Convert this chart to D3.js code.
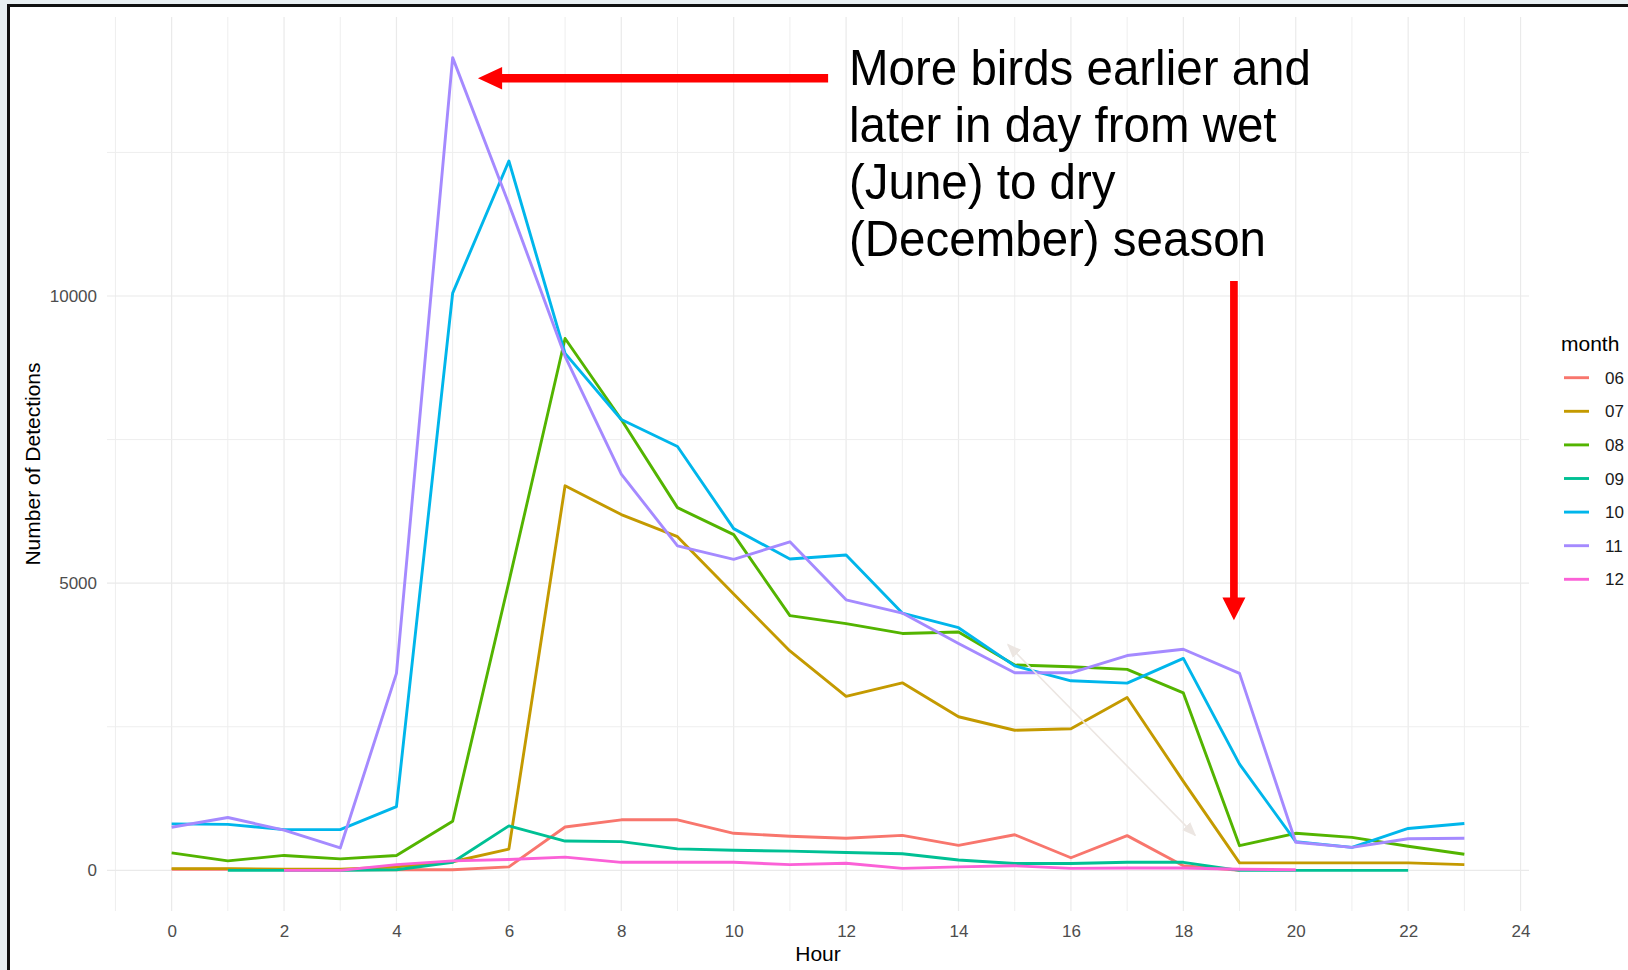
<!DOCTYPE html>
<html>
<head>
<meta charset="utf-8">
<script src="https://cdn.jsdelivr.net/npm/d3@7"></script>
<style>
  html, body { margin: 0; padding: 0; background: #e8eff2; }
  svg { display: block; }
  text { font-family: "Liberation Sans", Arial, sans-serif; }
</style>
</head>
<body>
<svg id="chart"></svg>
<script>
// chart values
const hours = [0, 1, 2, 3, 4, 5, 6, 7, 8, 9, 10, 11, 12, 13, 14, 15, 16, 17, 18, 19, 20, 21, 22, 23];
const months = ["06", "07", "08", "09", "10", "11", "12"];
const colors = ["#F8766D", "#C49A00", "#53B400", "#00C094", "#00B6EB", "#A58AFF", "#FB61D7"];

const m06 = [20, 20, 15, 10, 10, 10, 60, 755, 880, 880, 645, 595, 560, 610, 435, 620, 220, 605, 80, 0, null, null, null, null];
const m07 = [30, 30, 20, 20, 60, 150, 370, 6695, 6195, 5810, 4810, 3820, 3030, 3265, 2675, 2440, 2465, 3010, 1550, 130, 130, 130, 130, 100];
const m08 = [305, 165, 260, 200, 260, 855, 5020, 9260, 7850, 6315, 5845, 4435, 4295, 4125, 4150, 3575, 3545, 3500, 3090, 430, 645, 575, 420, 280];
const m09 = [null, 0, 0, 0, 10, 140, 775, 510, 500, 375, 350, 335, 310, 290, 180, 120, 120, 140, 140, 0, 0, 0, 0, null];
const m10 = [810, 800, 710, 710, 1110, 10050, 12350, 9000, 7850, 7380, 5950, 5420, 5490, 4480, 4225, 3560, 3300, 3260, 3690, 1850, 500, 400, 730, 815];
const m11 = [750, 920, 700, 390, 3430, 14150, 11600, 8950, 6900, 5650, 5415, 5720, 4710, 4480, 3950, 3440, 3440, 3740, 3850, 3430, 490, 400, 550, 560];
const m12 = [null, null, 0, 0, 100, 165, 190, 230, 140, 140, 140, 100, 125, 35, 60, 80, 35, 40, 40, 20, 10, null, null, null];
const series = [m06, m07, m08, m09, m10, m11, m12];

const xTicks = [0, 2, 4, 6, 8, 10, 12, 14, 16, 18, 20, 22, 24];
const xMinor = [-1, 1, 3, 5, 7, 9, 11, 13, 15, 17, 19, 21, 23];
const yTicks = [0, 5000, 10000];
const yMinor = [2500, 7500, 12500];

const noteLines = ["More birds earlier and", "later in day from wet", "(June) to dry", "(December) season"];

const W = 1628, H = 970;
const panel = { left: 107, right: 1529, top: 17, bottom: 911 };

const svg = d3.select("#chart").attr("width", W).attr("height", H);

// screenshot frame
svg.append("rect").attr("x", 0).attr("y", 0).attr("width", W).attr("height", H).attr("fill", "#e8eff2");
svg.append("rect").attr("x", 8.5).attr("y", 5.5).attr("width", W + 10).attr("height", H + 10)
  .attr("fill", "#ffffff").attr("stroke", "#111").attr("stroke-width", 3);

const yMax = d3.max(series.flat());
const pad = yMax * 0.05;

const x = d3.scaleLinear().domain([-1.15, 24.15]).range([panel.left, panel.right]);
const y = d3.scaleLinear().domain([-pad, yMax + pad]).range([panel.bottom, panel.top]);

// grid
const grid = svg.append("g");
grid.selectAll(".vmin").data(xMinor).enter().append("line")
  .attr("x1", d => x(d)).attr("x2", d => x(d))
  .attr("y1", panel.top).attr("y2", panel.bottom)
  .attr("stroke", "#eeeeee").attr("stroke-width", 1);
grid.selectAll(".vmaj").data(xTicks).enter().append("line")
  .attr("x1", d => x(d)).attr("x2", d => x(d))
  .attr("y1", panel.top).attr("y2", panel.bottom)
  .attr("stroke", "#eaeaea").attr("stroke-width", 1.2);
grid.selectAll(".hmin").data(yMinor).enter().append("line")
  .attr("x1", panel.left).attr("x2", panel.right)
  .attr("y1", d => y(d)).attr("y2", d => y(d))
  .attr("stroke", "#eeeeee").attr("stroke-width", 1);
grid.selectAll(".hmaj").data(yTicks).enter().append("line")
  .attr("x1", panel.left).attr("x2", panel.right)
  .attr("y1", d => y(d)).attr("y2", d => y(d))
  .attr("stroke", "#eaeaea").attr("stroke-width", 1.2);

// axes (labels only, theme_minimal look)
const xAxis = svg.append("g")
  .attr("transform", "translate(0," + (panel.bottom + 14) + ")")
  .call(d3.axisBottom(x).tickValues(xTicks).tickSize(0).tickPadding(0));
xAxis.select(".domain").remove();
xAxis.selectAll("text").attr("font-size", 17).attr("fill", "#4d4d4d")
  .attr("font-family", "Liberation Sans, Arial, sans-serif");

const yAxis = svg.append("g")
  .attr("transform", "translate(" + (panel.left - 10) + ",0)")
  .call(d3.axisLeft(y).tickValues(yTicks).tickSize(0).tickPadding(0).tickFormat(d3.format("d")));
yAxis.select(".domain").remove();
yAxis.selectAll("text").attr("font-size", 17).attr("fill", "#4d4d4d")
  .attr("font-family", "Liberation Sans, Arial, sans-serif");

svg.append("text")
  .attr("x", (panel.left + panel.right) / 2).attr("y", 961)
  .attr("text-anchor", "middle").attr("font-size", 21).attr("fill", "#000")
  .text("Hour");

svg.append("text")
  .attr("transform", "translate(33," + ((panel.top + panel.bottom) / 2) + ") rotate(-90)")
  .attr("text-anchor", "middle").attr("dy", "0.35em").attr("font-size", 21).attr("fill", "#000")
  .text("Number of Detections");

// lines
const line = d3.line()
  .defined(d => d != null)
  .x((d, i) => x(hours[i]))
  .y(d => y(d));

svg.append("g").selectAll("path").data(series).enter().append("path")
  .attr("d", line)
  .attr("fill", "none")
  .attr("stroke", (d, i) => colors[i])
  .attr("stroke-width", 2.9)
  .attr("stroke-linejoin", "round");

// legend
const legend = svg.append("g").attr("transform", "translate(1561,0)");
legend.append("text").attr("x", 0).attr("y", 350.5).attr("font-size", 21).attr("fill", "#000").text("month");
const items = legend.selectAll(".item").data(months).enter().append("g")
  .attr("transform", (d, i) => "translate(0," + (377.7 + i * 33.6) + ")");
items.append("line").attr("x1", 3).attr("x2", 28).attr("y1", 0).attr("y2", 0)
  .attr("stroke", (d, i) => colors[i]).attr("stroke-width", 2.9);
items.append("text").attr("x", 44).attr("y", 6).attr("font-size", 17).attr("fill", "#1a1a1a").text(d => d);

// faint grey double arrow left on the slide
const defs = svg.append("defs");
defs.append("marker").attr("id", "grey-head")
  .attr("viewBox", "0 0 10 10").attr("refX", 9).attr("refY", 5)
  .attr("markerWidth", 9).attr("markerHeight", 9).attr("orient", "auto-start-reverse")
  .append("path").attr("d", "M0,1 L10,5 L0,9 Z").attr("fill", "#ece6e2");
svg.append("line")
  .attr("x1", x(14.88)).attr("y1", y(3930))
  .attr("x2", x(18.21)).attr("y2", y(610))
  .attr("stroke", "#ece6e2").attr("stroke-width", 1.6)
  .attr("marker-start", "url(#grey-head)").attr("marker-end", "url(#grey-head)");

// red callout arrows
const red = "#ff0000";
const ha = { y: y(13790), tail: x(11.68), base: x(5.88), tip: x(5.45), shaft: 8.4, head: 22.6 };
svg.append("path")
  .attr("d", "M" + ha.tail + "," + (ha.y - ha.shaft / 2) +
    "L" + ha.base + "," + (ha.y - ha.shaft / 2) +
    "L" + ha.base + "," + (ha.y - ha.head / 2) +
    "L" + ha.tip + "," + ha.y +
    "L" + ha.base + "," + (ha.y + ha.head / 2) +
    "L" + ha.base + "," + (ha.y + ha.shaft / 2) +
    "L" + ha.tail + "," + (ha.y + ha.shaft / 2) + "Z")
  .attr("fill", red);

const va = { x: x(18.9), top: y(10260), base: y(4750), tip: y(4355), shaft: 7.7, head: 23 };
svg.append("path")
  .attr("d", "M" + (va.x - va.shaft / 2) + "," + va.top +
    "L" + (va.x - va.shaft / 2) + "," + va.base +
    "L" + (va.x - va.head / 2) + "," + va.base +
    "L" + va.x + "," + va.tip +
    "L" + (va.x + va.head / 2) + "," + va.base +
    "L" + (va.x + va.shaft / 2) + "," + va.base +
    "L" + (va.x + va.shaft / 2) + "," + va.top + "Z")
  .attr("fill", red);

// callout text
const note = svg.append("g").attr("transform", "translate(849,85) scale(0.95,1)");
note.selectAll("text").data(noteLines).enter().append("text")
  .attr("x", 0).attr("y", (d, i) => i * 57)
  .attr("font-size", 50).attr("fill", "#000")
  .text(d => d);
</script>
</body>
</html>
